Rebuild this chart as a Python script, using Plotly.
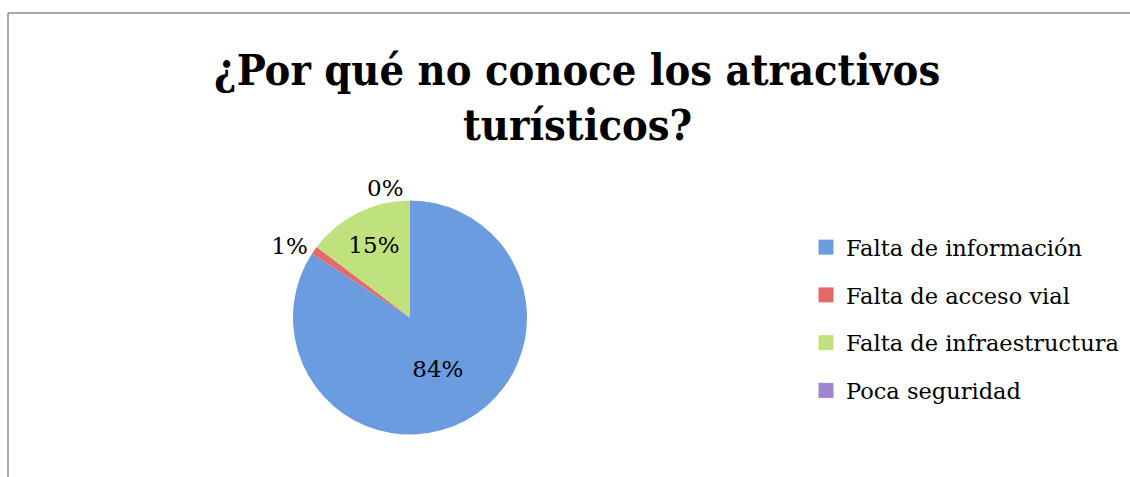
import plotly.graph_objects as go

categories = ["Falta de información", "Falta de acceso vial", "Falta de infraestructura", "Poca seguridad"]
values = [84.2, 1.1, 14.7, 0.0]
colors = ["#6C9CE0", "#E46A6A", "#C0E27E", "#A085CE"]
text_pos = ["inside", "outside", "inside", "outside"]
title_lines = ["¿Por qué no conoce los atractivos", "turísticos?"]

W, H = 1130, 477

def px(x):
    return x / W

def py(y):
    return 1 - y / H

fig = go.Figure()
fig.add_trace(go.Pie(
    labels=categories,
    values=values,
    sort=False,
    direction="clockwise",
    rotation=0,
    marker=dict(colors=colors, line=dict(width=0)),
    texttemplate="%{percent:.0%}",
    textposition=text_pos,
    textfont=dict(family="DejaVu Serif", size=23, color="#000000"),
    insidetextorientation="horizontal",
    domain=dict(x=[px(293), px(527)], y=[py(434.5), py(200.5)]),
    showlegend=False,
))

# legend entries (one group per category to control spacing)
for i, (cat, col) in enumerate(zip(categories, colors)):
    fig.add_trace(go.Scatter(
        x=[None], y=[None], mode="markers", name=cat,
        marker=dict(symbol="square", size=15, color=col),
        legendgroup=f"g{i}", showlegend=True,
    ))

fig.update_xaxes(visible=False)
fig.update_yaxes(visible=False)

annotations = []
for i, line in enumerate(title_lines):
    annotations.append(dict(
        text=f"<b>{line}</b>", xref="paper", yref="paper",
        x=0.511, xanchor="center", y=py(70 + 55 * i), yanchor="middle",
        showarrow=False,
        font=dict(family="DejaVu Serif Condensed", size=43, color="#000000"),
    ))

fig.update_layout(
    width=W, height=H,
    margin=dict(l=0, r=0, t=0, b=0),
    paper_bgcolor="white",
    plot_bgcolor="white",
    annotations=annotations,
    legend=dict(
        x=px(806), xanchor="left",
        y=py(226), yanchor="top",
        font=dict(family="DejaVu Serif", size=22.5, color="#000000"),
        bgcolor="rgba(0,0,0,0)",
        tracegroupgap=15.5,
        traceorder="grouped",
        itemwidth=30,
    ),
    shapes=[
        dict(type="line", xref="paper", yref="paper", x0=px(8), x1=1.0, y0=py(13), y1=py(13),
             line=dict(color="#8C8C8C", width=1.5)),
        dict(type="line", xref="paper", yref="paper", x0=px(8), x1=px(8), y0=py(13), y1=0.0,
             line=dict(color="#8C8C8C", width=1.5)),
    ],
)

fig.write_html("out.html")
